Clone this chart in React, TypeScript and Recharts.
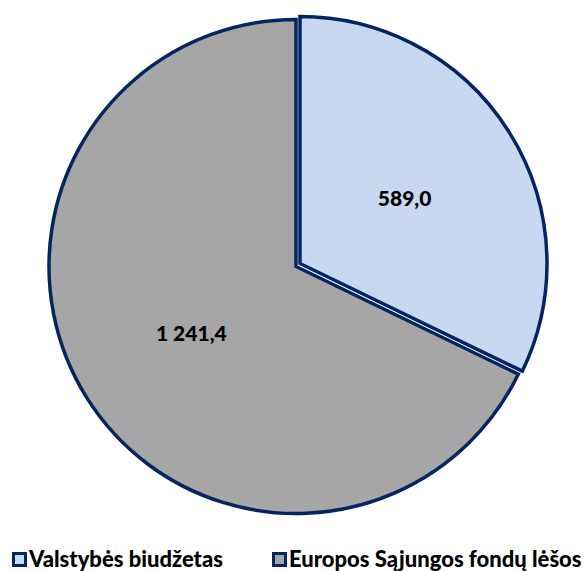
import { PieChart, Pie, Cell, Legend } from "recharts";

const categories = ["Valstybės biudžetas", "Europos Sąjungos fondų lėšos"];
const values = [589.0, 1241.4];
const valueLabels = ["589,0", "1 241,4"];

const COLORS = ["#C6D9F1", "#A6A6A6"];
const BORDER = "#06245F";
const FONT = "Lato, 'Open Sans', sans-serif";

const data = categories.map((name, i) => ({ name, value: values[i], label: valueLabels[i] }));

const RADIAN = Math.PI / 180;

function renderLabel(only: number) {
  return (props: any) => {
    const { cx, cy, midAngle, outerRadius, index } = props;
    if (index !== only) return null;
    const r = outerRadius * 0.5;
    const x = cx + r * Math.cos(-midAngle * RADIAN);
    const y = cy + r * Math.sin(-midAngle * RADIAN);
    return (
      <text x={x} y={y} fill="#000" textAnchor="middle" dominantBaseline="central"
        style={{ fontFamily: FONT, fontWeight: 900, fontSize: 21 }}>
        {valueLabels[index]}
      </text>
    );
  };
}

const legendLeft = [12, 272];

function LegendContent() {
  return (
    <div style={{ position: "relative", height: 24, fontFamily: FONT, fontWeight: 900, fontSize: 22, color: "#000" }}>
      {categories.map((c, i) => (
        <div key={c} style={{ position: "absolute", left: legendLeft[i], top: 0, height: 24, display: "flex", alignItems: "center", whiteSpace: "nowrap" }}>
          <span style={{ display: "inline-block", width: 9, height: 9, background: COLORS[i], border: `3px solid ${BORDER}`, marginRight: 2 }} />
          <span style={{ lineHeight: "24px" }}>{c}</span>
        </div>
      ))}
    </div>
  );
}

export default function App() {
  return (
    <div style={{ position: "absolute", left: 0, top: 0, background: "#fff" }}>
      <PieChart width={587} height={571}>
        <Pie data={data} dataKey="value" cx={291} cy={261.5} outerRadius={247} startAngle={90} endAngle={-270}
          stroke={BORDER} strokeWidth={3.5} isAnimationActive={false} label={renderLabel(1)} labelLine={false}>
          {data.map((d, i) => (
            <Cell key={d.name} fill={i === 1 ? COLORS[1] : "none"} stroke={i === 1 ? BORDER : "none"} />
          ))}
        </Pie>
        <Pie data={data} dataKey="value" cx={295} cy={258.5} outerRadius={247} startAngle={90} endAngle={-270}
          stroke={BORDER} strokeWidth={3.5} isAnimationActive={false} label={renderLabel(0)} labelLine={false}>
          {data.map((d, i) => (
            <Cell key={d.name} fill={i === 0 ? COLORS[0] : "none"} stroke={i === 0 ? BORDER : "none"} />
          ))}
        </Pie>
        <Legend verticalAlign="bottom" align="left" content={<LegendContent />}
          wrapperStyle={{ left: 0, top: 547, width: 587 }} />
      </PieChart>
    </div>
  );
}
